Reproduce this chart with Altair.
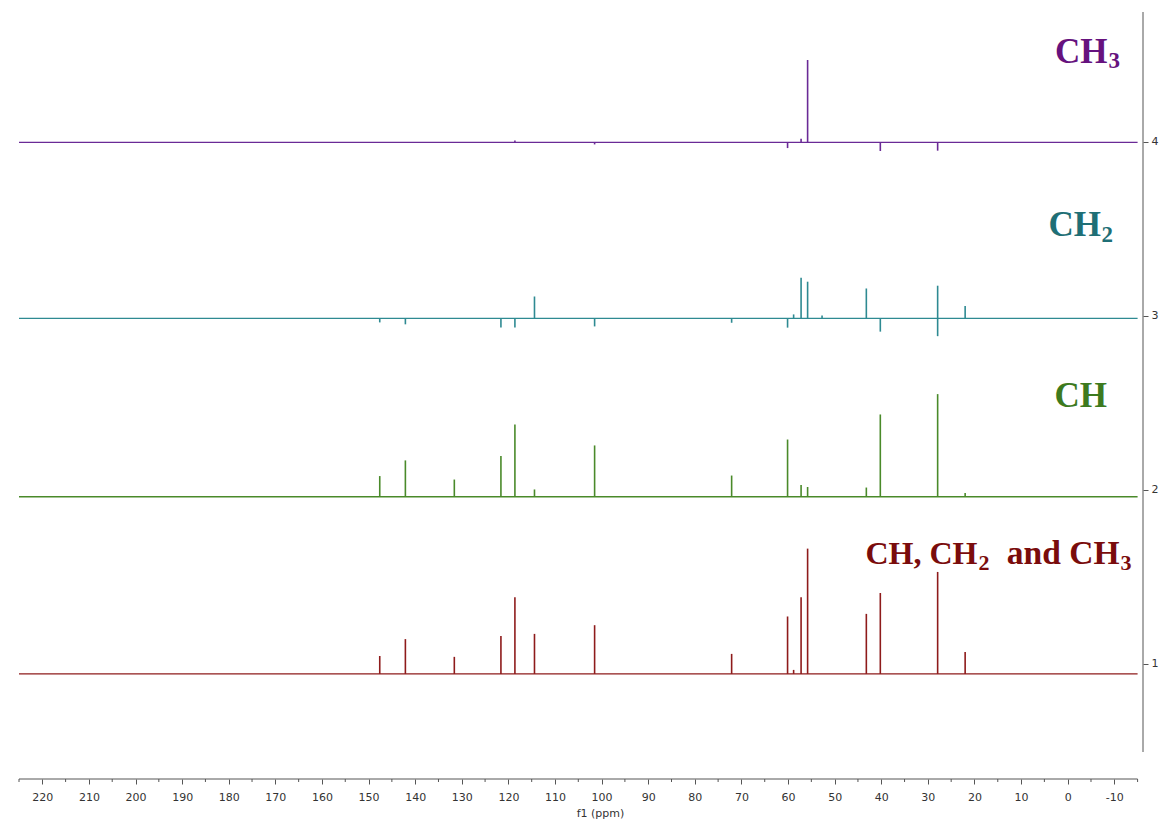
import altair as alt
import pandas as pd

# ---- data -------------------------------------------------------------
spectra = ["CH, CH2 and CH3", "CH", "CH2", "CH3"]
baselines = [0.943, 1.961, 2.986, 3.998]
colors = ["#8e1b1b", "#4a8a2a", "#2e8a92", "#6a2a96"]
ppm_start = 225.0
ppm_end = -15.0

red_ppm = [147.6, 142.1, 131.6, 121.6, 118.6, 114.4, 101.5, 72.1, 60.1, 58.8, 57.2, 55.8, 43.2, 40.2, 27.9, 22.0]
red_h = [0.103, 0.200, 0.098, 0.218, 0.440, 0.230, 0.280, 0.115, 0.330, 0.023, 0.440, 0.720, 0.345, 0.465, 0.586, 0.126]

green_ppm = [147.6, 142.1, 131.6, 121.6, 118.6, 114.4, 101.5, 72.1, 60.1, 57.2, 55.8, 43.2, 40.2, 27.9, 22.0]
green_h = [0.119, 0.209, 0.099, 0.234, 0.416, 0.042, 0.295, 0.122, 0.329, 0.067, 0.056, 0.053, 0.473, 0.590, 0.021]

teal_ppm = [147.6, 142.1, 121.6, 118.6, 114.4, 101.5, 72.1, 60.1, 58.8, 57.2, 55.8, 52.7, 43.2, 40.2, 27.9, 27.9, 22.0]
teal_h = [-0.023, -0.034, -0.052, -0.052, 0.126, -0.046, -0.025, -0.053, 0.023, 0.234, 0.211, 0.017, 0.172, -0.076, 0.188, -0.102, 0.071]

purple_ppm = [118.6, 101.5, 60.1, 57.2, 55.8, 40.2, 27.9]
purple_h = [0.010, -0.012, -0.033, 0.020, 0.473, -0.050, -0.048]

x_ticks = list(range(220, -11, -10))
x_minor = [v + 5 for v in range(-20, 221, 10) if -15 <= v + 5 <= 225]
y_ticks = [1, 2, 3, 4]

# ---- tables -----------------------------------------------------------
rows = []
for name, base, ppms, hs in [
    (spectra[0], baselines[0], red_ppm, red_h),
    (spectra[1], baselines[1], green_ppm, green_h),
    (spectra[2], baselines[2], teal_ppm, teal_h),
    (spectra[3], baselines[3], purple_ppm, purple_h),
]:
    for p, h in zip(ppms, hs):
        rows.append({"spectrum": name, "ppm": p, "y0": base, "y1": base + h})
peaks = pd.DataFrame(rows)

base_df = pd.DataFrame({
    "spectrum": spectra,
    "x0": [ppm_start] * 4,
    "x1": [ppm_end] * 4,
    "y": baselines,
})
minor_df = pd.DataFrame({"ppm": x_minor})

xscale = alt.Scale(domain=[225.0, -16.16], nice=False, zero=False)
yscale = alt.Scale(domain=[0.339, 4.747], nice=False, zero=False)
cscale = alt.Scale(domain=spectra, range=colors)

W, H = 1124, 767

base_layer = alt.Chart(base_df).mark_rule(strokeWidth=1.4).encode(
    x=alt.X("x0:Q", scale=xscale,
            axis=alt.Axis(values=x_ticks, title="f1 (ppm)", domain=False,
                          tickSize=5, tickColor="#555", labelColor="#333",
                          labelFont="DejaVu Sans", labelFontSize=11, labelPadding=7,
                          labelExpr="datum.value < 0 ? '-' + abs(datum.value) : '' + datum.value",
                          titleFont="DejaVu Sans", titleFontSize=11, titleFontWeight="normal",
                          titleColor="#333", titleX=581, titleY=34, titleBaseline="middle",
                          grid=False)),
    x2="x1:Q",
    y=alt.Y("y:Q", scale=yscale,
            axis=alt.Axis(orient="right", values=y_ticks, title=None, domain=False,
                          tickSize=5, tickColor="#555", labelColor="#333",
                          labelFont="DejaVu Sans", labelFontSize=11, labelPadding=3,
                          grid=False, format="d")),
    color=alt.Color("spectrum:N", scale=cscale, legend=None),
)

peak_layer = alt.Chart(peaks).mark_rule(strokeWidth=1.6).encode(
    x=alt.X("ppm:Q", scale=xscale),
    y=alt.Y("y0:Q", scale=yscale),
    y2="y1:Q",
    color=alt.Color("spectrum:N", scale=cscale, legend=None),
)

minor_layer = alt.Chart(minor_df).mark_rule(color="#555", strokeWidth=1).encode(
    x=alt.X("ppm:Q", scale=xscale),
    y=alt.value(H),
    y2=alt.value(H + 3),
)

xaxis_line = alt.Chart(pd.DataFrame({"a": [ppm_start], "b": [ppm_end]})).mark_rule(
    color="#555", strokeWidth=1).encode(
    x=alt.X("a:Q", scale=xscale), x2="b:Q", y=alt.value(H))

yaxis_line = alt.Chart(pd.DataFrame({"a": [0]})).mark_rule(
    color="#555", strokeWidth=1).encode(
    x=alt.value(W), y=alt.value(0), y2=alt.value(740))

def lab(text, x, y, color, size, align="left"):
    return alt.Chart(pd.DataFrame({"t": [text]})).mark_text(
        font="Liberation Serif", fontWeight="bold", fontSize=size, color=color,
        align=align, baseline="alphabetic").encode(
        text="t:N", x=alt.value(x), y=alt.value(y))

OX, OY = 19, 12
labels = [
    lab("CH", 1107.5 - OX, 63 - OY, "#66127e", 35, "right"),
    lab("3", 1108.5 - OX, 68 - OY, "#66127e", 23),
    lab("CH", 1101 - OX, 236 - OY, "#1f6f76", 35, "right"),
    lab("2", 1101.5 - OX, 242 - OY, "#1f6f76", 23),
    lab("CH", 1107 - OX, 407 - OY, "#3d7a1e", 35, "right"),
    lab("CH, CH", 977.5 - OX, 564 - OY, "#7a0c0c", 32, "right"),
    lab("2", 978.5 - OX, 570 - OY, "#7a0c0c", 22),
    lab("and CH", 1119.5 - OX, 564 - OY, "#7a0c0c", 33.5, "right"),
    lab("3", 1120.5 - OX, 570 - OY, "#7a0c0c", 22),
]

chart = alt.layer(
    base_layer, peak_layer, minor_layer, xaxis_line, yaxis_line, *labels
).properties(
    width=W, height=H,
    autosize=alt.AutoSizeParams(type="none"),
    padding={"left": 11, "top": 4, "right": 24, "bottom": 42},
).configure(background="white").configure_view(stroke=None)

chart.save("out.html", embed_options={"renderer": "svg", "actions": False})
